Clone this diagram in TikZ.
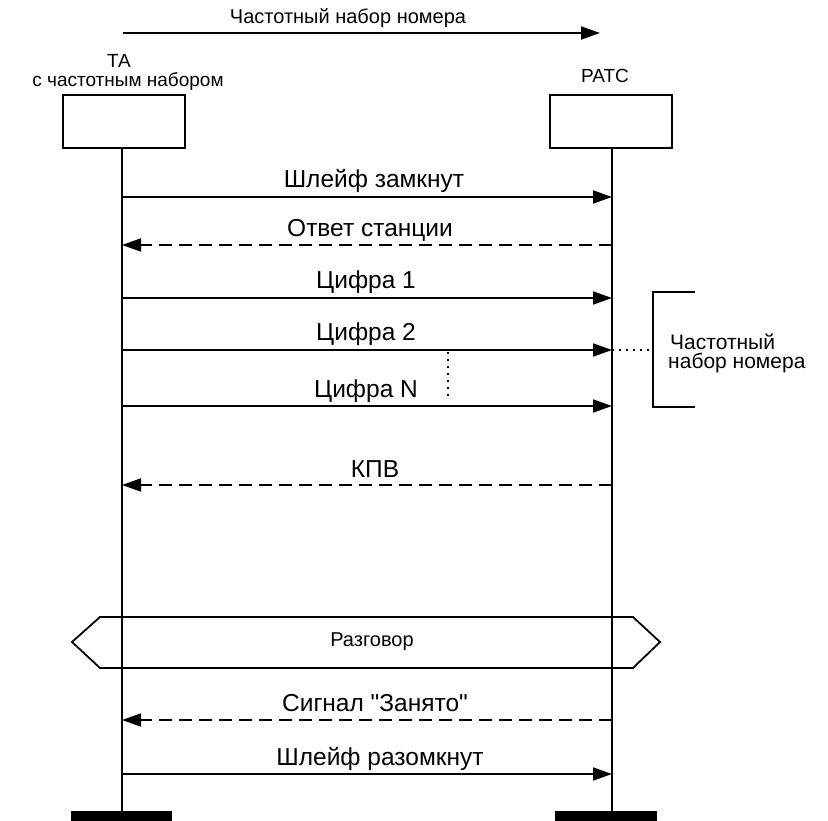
\documentclass[tikz,border=0pt]{standalone}
\usepackage{fontspec}
\setmainfont{Liberation Sans}[Ligatures=TeXOff]
\usetikzlibrary{arrows.meta}
\begin{document}
\begin{tikzpicture}[x=1pt,y=-1pt,
  line width=1.8pt,
  tip/.style={-{Triangle[length=19pt,width=13pt]}},
  msg/.style={tip},
  reply/.style={tip,dash pattern=on 13pt off 7pt},
  dotline/.style={line width=1.6pt,dash pattern=on 2pt off 5pt},
  lbl/.style={font=\fontsize{24.5}{28}\selectfont,anchor=base},
  small/.style={font=\fontsize{19}{20}\selectfont},
  party/.style={draw,minimum width=122pt,minimum height=53pt,inner sep=0pt},
  bar/.style={fill=black,draw=none}]
\useasboundingbox (0,0) rectangle (828,821);

% title arrow
\coordinate (t0) at (123,33);
\coordinate (t1) at (600,33);
\draw[tip] (t0) -- (t1);
\node[font=\fontsize{20}{22}\selectfont,anchor=base] (title) at (348,24) {Частотный набор номера};

% parties
\node[party] (ta) at (124,121.5) {};
\node[party] (pbx) at (611,121.5) {};
\node[small,anchor=base] (talbl1) at (119,68) {ТА};
\node[small,anchor=base] (talbl2) at (128,87) {с частотным набором};
\node[small,anchor=base] (pbxlbl) at (605,83) {РАТС};

% lifeline end points
\coordinate (lend) at (122,811);
\coordinate (rend) at (612,811);
\draw (ta.south -| lend) -- (lend);
\draw (pbx.south -| rend) -- (rend);
\fill (71,811) rectangle (172,822);
\fill (555,811) rectangle (657,822);

% messages
\foreach \y [count=\i] in {197,245,298,350,406,485,720,774}{
  \coordinate (a\i) at (122,\y);
  \coordinate (b\i) at (612,\y);
}
\draw[msg] (a1) -- (b1);
\draw[reply] (b2) -- (a2);
\draw[msg] (a3) -- (b3);
\draw[msg] (a4) -- (b4);
\draw[msg] (a5) -- (b5);
\draw[reply] (b6) -- (a6);
\draw[reply] (b7) -- (a7);
\draw[msg] (a8) -- (b8);

\node[lbl] (m1) at (374,188) {Шлейф замкнут};
\node[lbl] (m2) at (370,237) {Ответ станции};
\node[lbl] (m3) at (366,289) {Цифра 1};
\node[lbl] (m4) at (366,341) {Цифра 2};
\node[lbl] (m5) at (366,397) {Цифра N};
\node[lbl] (m6) at (375,477) {КПВ};
\node[lbl] (m7) at (375,711) {Сигнал "Занято"};
\node[lbl] (m8) at (380,765) {Шлейф разомкнут};

% omitted digits
\coordinate (d0) at (448,352);
\coordinate (d1) at (448,400);
\draw[dotline] (d0) -- (d1);

% bracket for tone dialling
\coordinate (k0) at (695,292);
\coordinate (k1) at (653,292);
\coordinate (k2) at (653,407);
\coordinate (k3) at (695,407);
\draw (k0) -- (k1) -- (k2) -- (k3);
\coordinate (km) at (653,350);
\draw[dotline] (b4) -- (km);
\node[font=\fontsize{21}{21}\selectfont,anchor=base west] (klbl1) at (666,349) {Частотный};
\node[font=\fontsize{21}{21}\selectfont,anchor=base west] (klbl2) at (664,368) {набор номера};

% conversation
\draw (72,642) -- (100,617) -- (633,617) -- (660,642) -- (633,668) -- (100,668) -- cycle;
\node[font=\fontsize{20}{22}\selectfont] (talk) at (372,642) {Разговор};
\end{tikzpicture}
\end{document}
